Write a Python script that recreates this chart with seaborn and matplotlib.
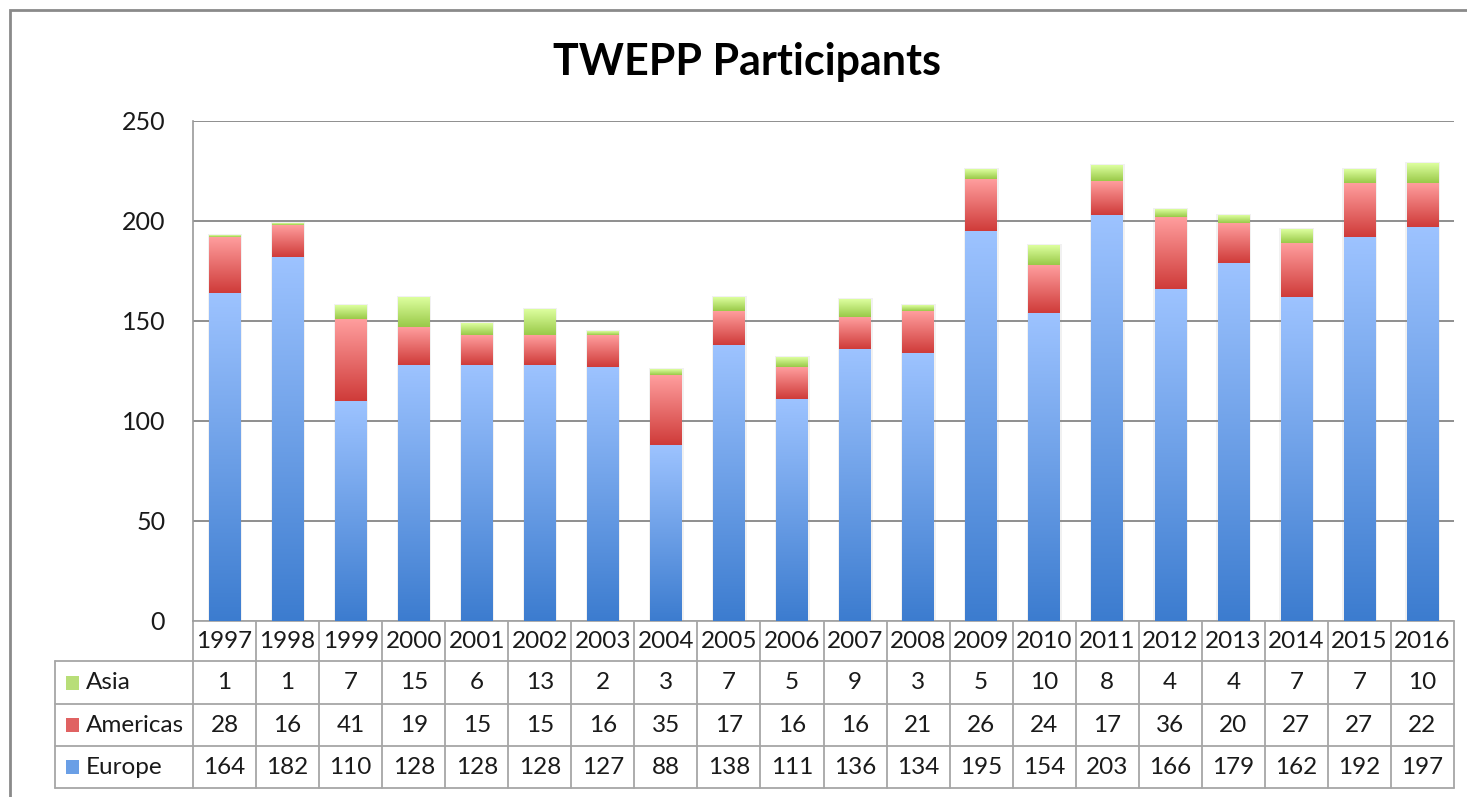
import numpy as np
import pandas as pd
import matplotlib
matplotlib.use("Agg")
import matplotlib.pyplot as plt
import seaborn as sns
from matplotlib.colors import LinearSegmentedColormap
from matplotlib.patches import Rectangle
from matplotlib.transforms import blended_transform_factory

# data
years = [str(y) for y in range(1997, 2017)]
asia = [1, 1, 7, 15, 6, 13, 2, 3, 7, 5, 9, 3, 5, 10, 8, 4, 4, 7, 7, 10]
americas = [28, 16, 41, 19, 15, 15, 16, 35, 17, 16, 16, 21, 26, 24, 17, 36, 20, 27, 27, 22]
europe = [164, 182, 110, 128, 128, 128, 127, 88, 138, 111, 136, 134, 195, 154, 203, 166, 179, 162, 192, 197]

regions = ["Asia", "Americas", "Europe"]
values = {"Asia": asia, "Americas": americas, "Europe": europe}

# gradient colours (bottom -> top) and legend key colours
grads = {
    "Europe": ["#3c7ccf", "#9dc3ff"],
    "Americas": ["#cf3b39", "#ff9e9e"],
    "Asia": ["#99c948", "#ddff9f"],
}
keys = {"Europe": "#6a9fe6", "Americas": "#e06262", "Asia": "#b8de78"}

# cumulative tops so the bars can be drawn overlapping (stacked look)
eu = np.array(europe)
am = eu + np.array(americas)
tot = am + np.array(asia)
tops = {"Europe": eu, "Americas": am, "Asia": tot}

df = pd.concat([
    pd.DataFrame({"year": years, "region": r, "value": values[r], "top": tops[r]})
    for r in regions
])

sns.set_theme(style="white")
plt.rcParams["font.family"] = ["Lato", "DejaVu Sans"]

fig = plt.figure(figsize=(14.67, 7.97), dpi=100)
ax = fig.add_axes([193 / 1467, 1 - 621 / 797, 1261 / 1467, 500 / 797])

sns.barplot(data=df, x="year", y="top", hue="region", hue_order=regions,
            dodge=False, width=0.5, legend=False, errorbar=None, ax=ax)

# replace flat bars with vertical gradients, one per segment
grad = np.linspace(0, 1, 256).reshape(-1, 1)
for cont, r in zip(ax.containers, regions):
    cmap = LinearSegmentedColormap.from_list(r, grads[r])
    for patch, v in zip(cont.patches, values[r]):
        x0 = patch.get_x()
        w = patch.get_width()
        top = patch.get_height()
        patch.set_visible(False)
        ax.imshow(grad, extent=(x0, x0 + w, top - v, top), origin="lower",
                  cmap=cmap, aspect="auto", zorder=3, interpolation="bilinear")

# faint shadow behind each bar
for patch in ax.containers[0].patches:
    x0 = patch.get_x()
    w = patch.get_width()
    h = patch.get_height()
    ax.add_patch(Rectangle((x0 - 0.02, 0), w + 0.05, h + 0.6,
                           color="#909090", alpha=0.12, lw=0, zorder=2))

ax.set_xlim(-0.5, len(years) - 0.5)
ax.set_ylim(0, 250)
ax.set_yticks(range(0, 251, 50))
ax.yaxis.grid(True, color="#868686", lw=1.3)
ax.set_axisbelow(True)
for s in ["top", "right", "bottom"]:
    ax.spines[s].set_visible(False)
ax.spines["left"].set_color("#9a9a9a")
ax.spines["left"].set_linewidth(1.2)
ax.tick_params(axis="y", length=0, pad=20, labelsize=18, labelcolor="#1a1a1a")
ax.tick_params(axis="x", bottom=False, labelbottom=False)
ax.set_xlabel("")
ax.set_ylabel("")

# data table below the plot
tr = blended_transform_factory(ax.transData, ax.transAxes)
col_px = 1261 / len(years)
xl = -0.5 - (193 - 55) / col_px
xr = len(years) - 0.5
rows_y = [0, -0.08, -0.166, -0.25, -0.334]
lc = "#a6a6a6"
lw = 1.3
fs = 17.5

ax.plot([-0.5, xr], [0, 0], transform=tr, clip_on=False, color=lc, lw=lw)
for yb in rows_y[1:]:
    ax.plot([xl, xr], [yb, yb], transform=tr, clip_on=False, color=lc, lw=lw)
for i in range(len(years) + 1):
    ax.plot([i - 0.5, i - 0.5], [0, rows_y[-1]], transform=tr, clip_on=False, color=lc, lw=lw)
ax.plot([xl, xl], [rows_y[1], rows_y[-1]], transform=tr, clip_on=False, color=lc, lw=lw)

for i, y in enumerate(years):
    ax.text(i, -0.04, y, transform=tr, ha="center", va="center", fontsize=fs, color="#1a1a1a")

for j, r in enumerate(regions):
    yc = (rows_y[j + 1] + rows_y[j + 2]) / 2
    for i, v in enumerate(values[r]):
        ax.text(i, yc, str(v), transform=tr, ha="center", va="center", fontsize=fs, color="#1a1a1a")
    ax.add_patch(Rectangle((-0.5 - (193 - 66) / col_px, yc - 0.014), 13 / col_px, 0.028,
                           transform=tr, clip_on=False, color=keys[r], lw=0))
    ax.text(-0.5 - (193 - 86) / col_px, yc, r, transform=tr, ha="left", va="center",
            fontsize=fs, color="#1a1a1a")

fig.text(747 / 1467, 1 - 62 / 797, "TWEPP Participants", ha="center", va="center",
         fontsize=31, fontweight="bold", color="black")

# chart frame (only top and left visible in the original)
fig.add_artist(Rectangle((10 / 1467, -0.1), 1.2, 1 - 10 / 797 + 0.1, fill=False,
                         edgecolor="#8a8a8a", lw=2, transform=fig.transFigure))

fig.savefig("out.png", dpi=100)
